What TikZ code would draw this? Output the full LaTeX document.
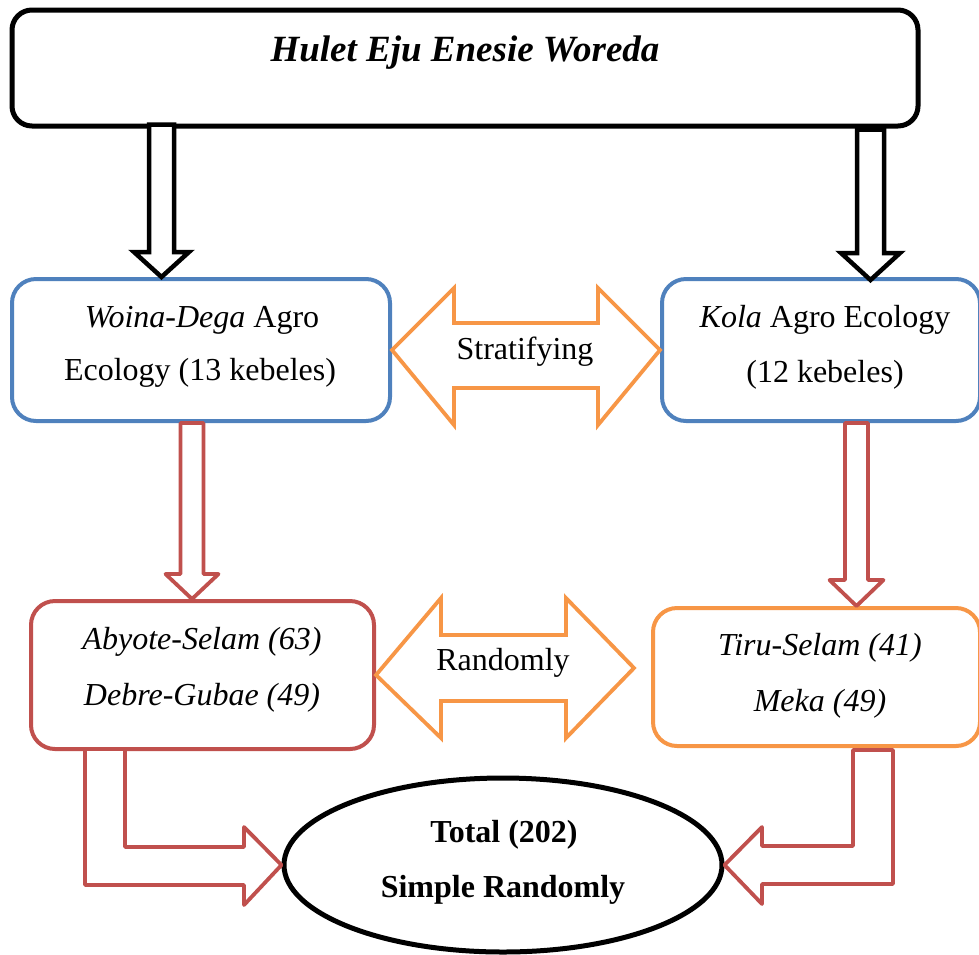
\documentclass[tikz,border=0pt]{standalone}
\usepackage{fontspec}
\setmainfont{Liberation Serif}
\usetikzlibrary{calc,shapes.geometric}
\definecolor{cblue}{HTML}{4F81BD}
\definecolor{cred}{HTML}{C0504D}
\definecolor{corange}{HTML}{F79646}
% vertical block arrow: style, tip, start (y used), shaft half width, head half width, head length
\newcommand{\vblockarrow}[6]{%
  \draw[#1] let \p1=(#2), \p2=(#3) in
    (\x1,\y1) -- (\x1+#5,\y1+#6) -- (\x1+#4,\y1+#6) -- (\x1+#4,\y2)
    -- (\x1-#4,\y2) -- (\x1-#4,\y1+#6) -- (\x1-#5,\y1+#6) -- cycle;}
\tikzset{
  txt/.style={anchor=base, inner sep=0pt, font=\fontsize{32}{38}\selectfont},
  boxblack/.style={draw=black, line width=5pt, rounded corners=20pt, fill=white},
  boxblue/.style={draw=cblue, line width=4pt, rounded corners=24pt, fill=white},
  boxred/.style={draw=cred, line width=4pt, rounded corners=24pt, fill=white},
  boxorange/.style={draw=corange, line width=4pt, rounded corners=24pt, fill=white},
  arrblack/.style={draw=black, line width=4.5pt, fill=white, line join=miter},
  arrred/.style={draw=cred, line width=3.8pt, fill=white, line join=round},
  arrorange/.style={draw=corange, line width=3.8pt, fill=white, line join=miter},
}
\begin{document}
\begin{tikzpicture}[x=1pt,y=-1pt]
\useasboundingbox (0,0) rectangle (979,954);
% boxes
\node[boxblack, minimum width=906pt, minimum height=116pt, inner sep=0pt] (top) at (465,68) {};
\node[boxblue, minimum width=378pt, minimum height=142pt, inner sep=0pt] (wd) at (201,350) {};
\node[boxblue, minimum width=318pt, minimum height=142pt, inner sep=0pt] (kola) at (821,350) {};
\node[boxred, minimum width=343pt, minimum height=148pt, inner sep=0pt] (ab) at (202.5,675) {};
\node[boxorange, minimum width=327pt, minimum height=138pt, inner sep=0pt] (tiru) at (816.5,677) {};
% tips
\coordinate (tipA) at (161.5,277);
\coordinate (tipB) at (870.5,280);
\coordinate (tipC) at (192,599);
\coordinate (tipD) at (856.5,606);
% black arrows
\vblockarrow{arrblack}{tipA}{[yshift=4pt]top.south}{12.5}{27.5}{25}
\vblockarrow{arrblack}{tipB}{[yshift=-1pt]top.south}{13.5}{29.5}{27}
% red down arrows
\vblockarrow{arrred}{tipC}{wd.south}{11.5}{26.5}{25}
\vblockarrow{arrred}{tipD}{kola.south}{11.5}{27}{26}
% stratifying double arrow
\draw[arrorange] (wd.east) -- (454,288) -- (454,323) -- (598,323) -- (598,288) -- (kola.west)
  -- (598,425) -- (598,388) -- (454,388) -- (454,425) -- cycle;
% randomly double arrow
\coordinate (rR) at (634,668);
\draw[arrorange] (ab.east) -- (441,598) -- (441,635) -- (566,635) -- (566,598) -- (rR)
  -- (566,738) -- (566,701) -- (441,701) -- (441,738) -- cycle;
% total ellipse
\node[ellipse, draw=black, line width=5pt, fill=white, minimum width=438pt, minimum height=174pt, inner sep=0pt] (tot) at (503,865) {};
% bent arrows
\draw[arrred] (85,749) -- (85,885) -- (244,885) -- (244,905) -- (tot.west) -- (244,827)
  -- (244,847) -- (125,847) -- (125,749) -- cycle;
\draw[arrred] (893,750) -- (893,884) -- (762,884) -- (762,904) -- (tot.east) -- (762,827)
  -- (762,846) -- (853,846) -- (853,750) -- cycle;
% texts
\node[txt, font=\fontsize{37}{44}\selectfont\bfseries\itshape] (t0) at (465,61) {Hulet Eju Enesie Woreda};
\node[txt] (t1) at (202,327) {\textit{Woina-Dega} Agro};
\node[txt] (t2) at (200,380) {Ecology (13 kebeles)};
\node[txt] (t3) at (825,327) {\textit{Kola} Agro Ecology};
\node[txt] (t4) at (825,382) {(12 kebeles)};
\node[txt] (t5) at (525,359) {Stratifying};
\node[txt] (t6) at (202,649) {\textit{Abyote-Selam (63)}};
\node[txt] (t7) at (202,705) {\textit{Debre-Gubae (49)}};
\node[txt] (t8) at (503,670) {Randomly};
\node[txt] (t9) at (820,655) {\textit{Tiru-Selam (41)}};
\node[txt] (t10) at (820,711) {\textit{Meka (49)}};
\node[txt, font=\fontsize{32}{38}\selectfont\bfseries] (t11) at (504,842) {Total (202)};
\node[txt, font=\fontsize{32}{38}\selectfont\bfseries] (t12) at (503,897) {Simple Randomly};
\end{tikzpicture}
\end{document}
